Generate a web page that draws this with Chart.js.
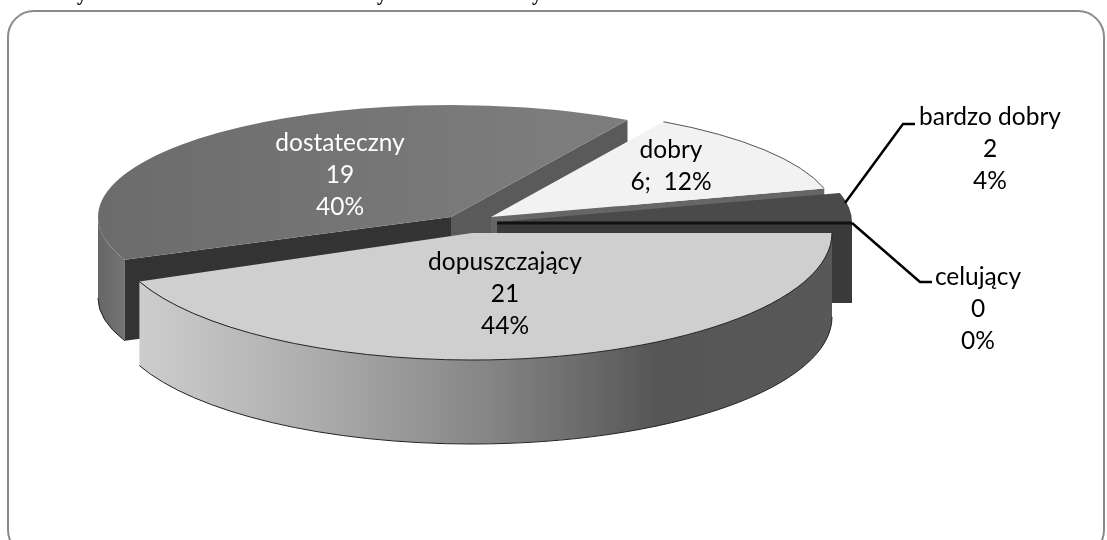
<!DOCTYPE html>
<html lang="pl">
<head>
    <meta charset="UTF-8">
    <title>Oceny</title>
    <script src="https://cdn.jsdelivr.net/npm/chart.js"></script>
    <style>
        html, body { margin: 0; padding: 0; background: #fff; overflow: hidden; }
        canvas { display: block; }
    </style>
</head>
<body>
    <canvas id="wykres" width="1107" height="540"></canvas>
<script>
    const categories = ['dopuszczający', 'dostateczny', 'dobry', 'bardzo dobry', 'celujący'];
    const values = [21, 19, 6, 2, 0];
    const percents = ['44%', '40%', '12%', '4%', '0%'];
    const sliceColors = ['#cfcfcf', '#777777', '#f2f2f2', '#4a4a4a', '#333333'];

    // wycinki rozsuniete recznie, kazdy ma swoja elipse
    const ellipses = [
        { cx: 472, cy: 233, rx: 360, ry: 127, depth: 84 },
        { cx: 451, cy: 217, rx: 353, ry: 112, depth: 81 },
        { cx: 491, cy: 217, rx: 345, ry: 110, depth: 81 },
        { cx: 497, cy: 222, rx: 355, ry: 112, depth: 81 },
        { cx: 497, cy: 223, rx: 355, ry: 112, depth: 81 }
    ];

    const labels = [
        { x: 505, y: 262, color: '#000', lines: [categories[0], String(values[0]), percents[0]] },
        { x: 340, y: 143, color: '#fff', lines: [categories[1], String(values[1]), percents[1]] },
        { x: 671, y: 150, color: '#000', lines: [categories[2], values[2] + ';  ' + percents[2]] },
        { x: 990, y: 117, color: '#000', lines: [categories[3], String(values[3]), percents[3]] },
        { x: 978, y: 277, color: '#000', lines: [categories[4], String(values[4]), percents[4]] }
    ];

    const leaders = [
        [[845, 203], [903, 124], [915, 124]],
        [[852, 223], [920, 282], [932, 282]]
    ];

    function pointAt(e, angle, dy) {
        return [e.cx + e.rx * Math.cos(angle), e.cy + e.ry * Math.sin(angle) + (dy || 0)];
    }

    function drawWall(ctx, e, a0, a1, fill) {
        const from = Math.max(a0, 0), to = Math.min(a1, Math.PI);
        if (to <= from) return;
        ctx.beginPath();
        ctx.ellipse(e.cx, e.cy, e.rx, e.ry, 0, from, to);
        ctx.ellipse(e.cx, e.cy + e.depth, e.rx, e.ry, 0, to, from, true);
        ctx.closePath();
        ctx.fillStyle = fill;
        ctx.fill();
        ctx.strokeStyle = '#222';
        ctx.lineWidth = 1;
        ctx.beginPath();
        ctx.ellipse(e.cx, e.cy + e.depth, e.rx, e.ry, 0, from, to);
        ctx.stroke();
    }

    function drawFace(ctx, e, angle, fill) {
        const p = pointAt(e, angle);
        ctx.beginPath();
        ctx.moveTo(e.cx, e.cy);
        ctx.lineTo(p[0], p[1]);
        ctx.lineTo(p[0], p[1] + e.depth);
        ctx.lineTo(e.cx, e.cy + e.depth);
        ctx.closePath();
        ctx.fillStyle = fill;
        ctx.fill();
    }

    function drawTop(ctx, arc, e) {
        ctx.save();
        ctx.translate(e.cx, e.cy);
        ctx.scale(e.rx / arc.outerRadius, e.ry / arc.outerRadius);
        ctx.translate(-arc.x, -arc.y);
        arc.draw(ctx);
        ctx.restore();
    }

    function drawRim(ctx, e, a0, a1, color) {
        ctx.beginPath();
        ctx.ellipse(e.cx, e.cy, e.rx, e.ry, 0, a0, a1);
        ctx.strokeStyle = color;
        ctx.lineWidth = 1;
        ctx.stroke();
    }

    const pie3d = {
        id: 'pie3d',
        beforeDraw(chart) {
            const ctx = chart.ctx;
            ctx.save();
            ctx.fillStyle = '#fff';
            ctx.fillRect(0, 0, chart.width, chart.height);
            ctx.beginPath();
            ctx.roundRect(8, 11, 1096, 545, 26);
            ctx.strokeStyle = '#8a8a8a';
            ctx.lineWidth = 2;
            ctx.stroke();
            // ogonki tekstu ucietego nad wykresem
            ctx.fillStyle = '#000';
            ctx.font = 'bold 20px "Liberation Serif"';
            ctx.textAlign = 'center';
            ctx.textBaseline = 'alphabetic';
            ctx.fillText('y', 82, 0);
            ctx.fillText('y', 382, 0);
            ctx.fillText('y', 537, 0);
            ctx.restore();
        },
        beforeDatasetsDraw(chart) {
            const ctx = chart.ctx;
            const arcs = chart.getDatasetMeta(0).data;
            ctx.save();

            // dostateczny
            const sideA = ctx.createLinearGradient(97, 0, 125, 0);
            sideA.addColorStop(0, '#666666');
            sideA.addColorStop(1, '#747474');
            drawWall(ctx, ellipses[1], arcs[1].startAngle, arcs[1].endAngle, sideA);
            drawFace(ctx, ellipses[1], arcs[1].endAngle, '#5a5a5a');
            drawFace(ctx, ellipses[1], arcs[1].startAngle, '#333333');
            const topA = ctx.createLinearGradient(97, 0, 620, 0);
            topA.addColorStop(0, '#626262');
            topA.addColorStop(1, '#7c7c7c');
            arcs[1].options.backgroundColor = topA;
            drawTop(ctx, arcs[1], ellipses[1]);

            // dobry
            drawFace(ctx, ellipses[2], arcs[2].endAngle, '#666666');
            drawTop(ctx, arcs[2], ellipses[2]);
            drawRim(ctx, ellipses[2], arcs[2].startAngle, arcs[2].endAngle, '#555');

            // bardzo dobry
            drawFace(ctx, ellipses[3], arcs[3].endAngle, '#3a3a3a');
            drawTop(ctx, arcs[3], ellipses[3]);

            // celujacy, 0% czyli sama linia
            const e0 = ellipses[4];
            const p0 = pointAt(e0, arcs[4].startAngle);
            ctx.beginPath();
            ctx.moveTo(e0.cx, e0.cy);
            ctx.lineTo(p0[0], p0[1]);
            ctx.strokeStyle = '#111';
            ctx.lineWidth = 3;
            ctx.stroke();

            // dopuszczajacy
            const side = ctx.createLinearGradient(140, 0, 830, 0);
            side.addColorStop(0, '#cdcdcd');
            side.addColorStop(0.25, '#adadad');
            side.addColorStop(0.5, '#868686');
            side.addColorStop(0.75, '#565656');
            side.addColorStop(1, '#585858');
            drawWall(ctx, ellipses[0], arcs[0].startAngle, arcs[0].endAngle, side);
            drawTop(ctx, arcs[0], ellipses[0]);
            drawRim(ctx, ellipses[0], arcs[0].startAngle, arcs[0].endAngle, '#222');

            // linie odniesienia
            ctx.strokeStyle = '#000';
            ctx.lineWidth = 2.5;
            leaders.forEach(function(line) {
                ctx.beginPath();
                line.forEach(function(p, i) {
                    if (i === 0) ctx.moveTo(p[0], p[1]); else ctx.lineTo(p[0], p[1]);
                });
                ctx.stroke();
            });

            ctx.font = '24.5px Lato';
            ctx.textAlign = 'center';
            ctx.textBaseline = 'middle';
            labels.forEach(function(l) {
                ctx.fillStyle = l.color;
                l.lines.forEach(function(text, i) {
                    ctx.fillText(text, l.x, l.y + i * 32);
                });
            });
            ctx.restore();
            return false;
        }
    };

    new Chart(document.getElementById('wykres'), {
        type: 'pie',
        data: {
            labels: categories,
            datasets: [{
                data: values,
                backgroundColor: sliceColors,
                borderWidth: 0
            }]
        },
        options: {
            responsive: false,
            animation: false,
            rotation: 90,
            plugins: {
                legend: { display: false },
                tooltip: { enabled: false }
            }
        },
        plugins: [pie3d]
    });
</script>
</body>
</html>
